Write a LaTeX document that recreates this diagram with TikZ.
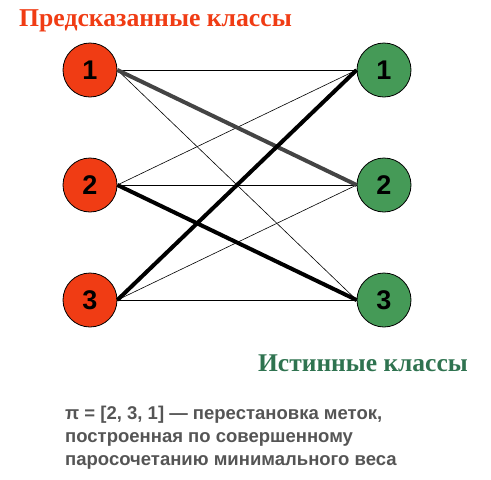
\documentclass[tikz,border=0pt]{standalone}
\usepackage{fontspec}
\setmainfont{Liberation Serif}
\setsansfont{Liberation Sans}
\definecolor{predred}{HTML}{F03C14}
\definecolor{truegreen}{HTML}{459A57}
\definecolor{titlegreen}{HTML}{2F7350}
\definecolor{captiongray}{HTML}{555555}
\definecolor{edgegray}{HTML}{444444}
\begin{document}
\begin{tikzpicture}[x=1pt,y=-1pt,
  cls/.style={circle,draw=black,line width=0.8pt,minimum size=54pt,inner sep=0pt,font=\sffamily\bfseries\fontsize{27}{27}\selectfont},
  pred/.style={cls,fill=predred},
  truth/.style={cls,fill=truegreen},
  thin edge/.style={line width=0.6pt,black},
  match edge/.style={line width=4pt,black},
  gray edge/.style={line width=4pt,edgegray},
  capline/.style={anchor=base west,text=captiongray,font=\sffamily\bfseries\fontsize{18.5}{18.5}\selectfont,inner sep=0pt}]
\useasboundingbox (0,0) rectangle (491,480);
\node[anchor=base west,inner sep=0pt,text=predred,font=\bfseries\fontsize{25.7}{25.7}\selectfont] (ttl) at (19,26) {Предсказанные классы};
\node[pred] (p1) at (90,70) {1};
\node[pred] (p2) at (90,185) {2};
\node[pred] (p3) at (90,300) {3};
\node[truth] (t1) at (384,70) {1};
\node[truth] (t2) at (384,185) {2};
\node[truth] (t3) at (384,300) {3};
\draw[thin edge] (p1.east) -- (t1.west);
\draw[thin edge] (p1.east) -- (t3.west);
\draw[thin edge] (p2.east) -- (t1.west);
\draw[thin edge] (p2.east) -- (t2.west);
\draw[thin edge] (p3.east) -- (t2.west);
\draw[thin edge] (p3.east) -- (t3.west);
\draw[gray edge] (p1.east) -- (t2.west);
\draw[match edge] (p2.east) -- (t3.west);
\draw[match edge] (p3.east) -- (t1.west);
\node[anchor=base east,inner sep=0pt,text=titlegreen,font=\bfseries\fontsize{25.5}{25.5}\selectfont] (ttl2) at (468,371) {Истинные классы};
\node[capline] (cap1) at (65,419) {π = [2, 3, 1] — перестановка меток,};
\node[capline] (cap2) at (65,442) {построенная по совершенному};
\node[capline] (cap3) at (65,465) {паросочетанию минимального веса};
\end{tikzpicture}
\end{document}
